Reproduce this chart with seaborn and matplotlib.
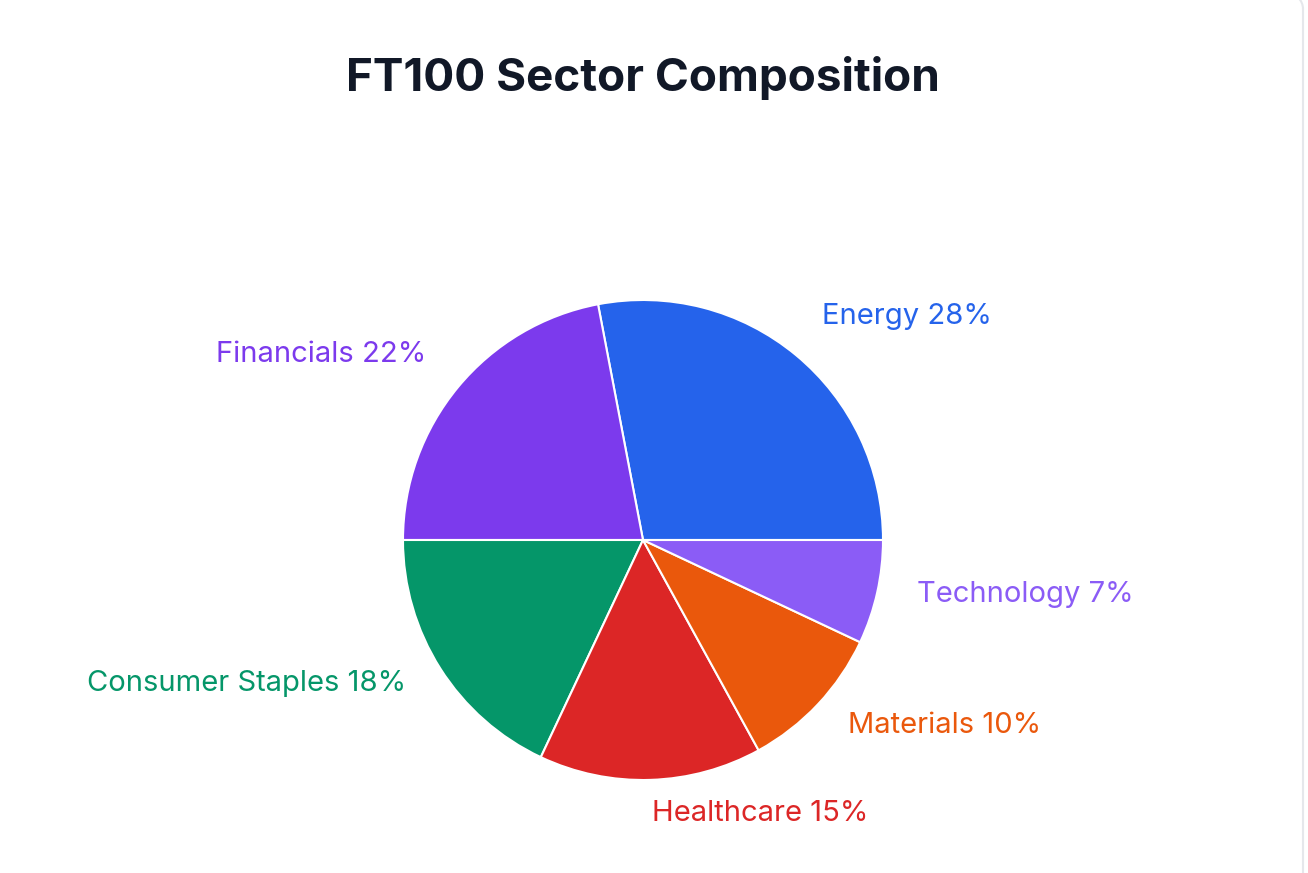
import matplotlib
matplotlib.use("Agg")
import matplotlib.pyplot as plt
import seaborn as sns
from matplotlib.patches import Arc
from matplotlib.lines import Line2D
from matplotlib.transforms import IdentityTransform

sectors = ["Energy", "Financials", "Consumer Staples", "Healthcare", "Materials", "Technology"]
shares = [28, 22, 18, 15, 10, 7]
colors = ["#2563EB", "#7C3AED", "#059669", "#DC2626", "#EA580C", "#8B5CF6"]
title = "FT100 Sector Composition"

sns.set_theme(style="white")
plt.rcParams['font.family'] = ['Inter', 'DejaVu Sans']

W, H = 1308, 873
fig = plt.figure(figsize=(W / 100, H / 100), dpi=100)
fig.patch.set_facecolor("white")

# card border (right edge with rounded top-right corner)
edge_x, top_y, rad = 1303, H + 7, 16
border_col = "#E5E7EB"
fig.lines.append(Line2D([edge_x, edge_x], [-5, top_y - rad], transform=IdentityTransform(),
                        color=border_col, linewidth=1.5))
fig.patches.append(Arc((edge_x - rad, top_y - rad), 2 * rad, 2 * rad, theta1=0, theta2=90,
                       transform=IdentityTransform(), color=border_col, linewidth=1.5))

cx, cy, r = 643, 540, 240
ax = fig.add_axes([(cx - r) / W, (H - cy - r) / H, 2 * r / W, 2 * r / H])
ax.patch.set_alpha(0)
labels = [f"{s} {v}%" for s, v in zip(sectors, shares)]
wedges, texts = ax.pie(shares, labels=labels, colors=sns.color_palette(colors), startangle=0,
                       counterclock=True, labeldistance=1.17,
                       wedgeprops=dict(edgecolor="white", linewidth=1.5),
                       textprops=dict(fontsize=21))
for t, c in zip(texts, colors):
    t.set_color(c)
    t.set_clip_on(False)
    x, y = t.get_position()
    t.set_position((x, y + 7 / r))
ax.set_xlim(-1, 1)
ax.set_ylim(-1, 1)
ax.axis("off")

fig.text(cx / W, 1 - 78 / H, title, ha="center", va="center", fontsize=33,
         fontweight="bold", color="#111827")

fig.savefig("out.png", dpi=100)
